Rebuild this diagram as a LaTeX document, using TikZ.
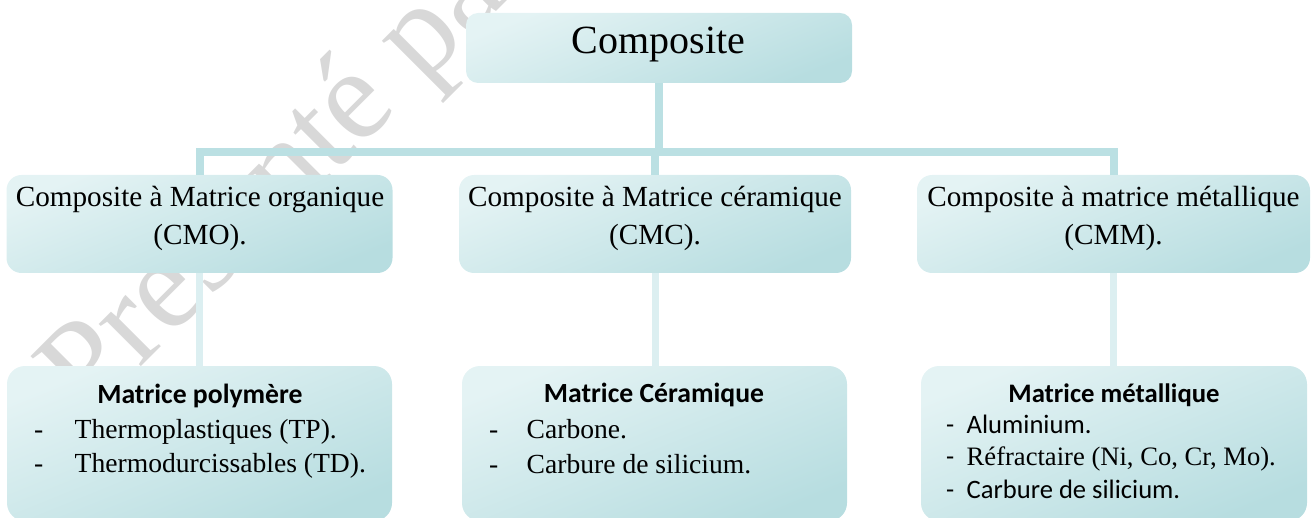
\documentclass[tikz,border=0pt]{standalone}
\usepackage{fontspec}
\setmainfont{Liberation Serif}
\newfontfamily\calibri{Carlito}
\definecolor{boxlight}{HTML}{E4F3F4}
\definecolor{boxmid}{HTML}{DAEEF0}
\definecolor{boxdark}{HTML}{B7DDE0}
\definecolor{linkdark}{HTML}{BBE0E3}
\definecolor{linklight}{HTML}{DCEFF1}
\definecolor{wmgray}{HTML}{D8D8D8}
\begin{document}
\begin{tikzpicture}[x=1pt,y=-1pt,
  card/.style={rectangle, rounded corners=#1, inner sep=0pt, draw=none,
    top color=boxlight, middle color=boxmid, bottom color=boxdark, shading angle=22},
  link/.style={draw=linkdark, line width=8pt},
  sublink/.style={draw=linklight, line width=7pt},
  ttl/.style={font=\fontsize{40}{48}\selectfont, inner sep=0pt, anchor=base},
  lvl/.style={font=\fontsize{29.2}{35}\selectfont, inner sep=0pt, anchor=base},
  head/.style={font=\calibri\bfseries\fontsize{27.7}{33}\selectfont, inner sep=0pt, anchor=base},
  itm/.style={font=\fontsize{27.6}{33}\selectfont, inner sep=0pt, anchor=base west},
  itmc/.style={font=\calibri\fontsize{26.6}{32}\selectfont, inner sep=0pt, anchor=base west},
  itmt/.style={font=\fontsize{26.6}{32}\selectfont, inner sep=0pt, anchor=base west},
  wm/.style={font=\fontsize{130}{150}\selectfont, text=wmgray, inner sep=0pt, anchor=base west, rotate=45}
]
\useasboundingbox (0,0) rectangle (1316,518);
\clip (0,0) rectangle (1316,518);

% background watermark
\node[wm] (wmark) at (88,420) {Présenté par};

% boxes
\node[card=12pt, minimum width=386pt, minimum height=70pt] (top) at (659,48) {};
\node[card=15pt, minimum width=386pt, minimum height=98pt] (c1) at (199.5,224) {};
\node[card=15pt, minimum width=392pt, minimum height=98pt] (c2) at (655,224) {};
\node[card=15pt, minimum width=393pt, minimum height=98pt] (c3) at (1113.5,224) {};
\node[card=18pt, minimum width=385pt, minimum height=155pt] (d1) at (199.5,443.5) {};
\node[card=18pt, minimum width=385pt, minimum height=155pt] (d2) at (654.5,443.5) {};
\node[card=18pt, minimum width=386pt, minimum height=155pt] (d3) at (1114,443.5) {};

% connectors
\coordinate (bar) at (0,152);
\draw[link] (top.south) -- (top.south |- bar);
\draw[link] (c1.north) -- (c1.north |- bar) -- (c3.north |- bar) -- (c3.north);
\draw[link] (c2.north) -- (c2.north |- bar);
\draw[sublink] (c1.south) -- (d1.north);
\draw[sublink] (c2.south) -- (c2.south |- d2.north);
\draw[sublink] (c3.south) -- (c3.south |- d3.north);

% titles
\node[ttl] (tTop) at (658.5,54) {Composite};
\node[lvl] (t1a) at (200,207) {Composite à Matrice organique};
\node[lvl] (t1b) at (200,245) {(CMO).};
\node[lvl] (t2a) at (655,207) {Composite à Matrice céramique};
\node[lvl] (t2b) at (655,245) {(CMC).};
\node[lvl] (t3a) at (1113.5,207) {Composite à matrice métallique};
\node[lvl] (t3b) at (1113.5,245) {(CMM).};

% polymer matrix
\node[head] (h1) at (200,403) {Matrice polymère};
\node[itm] (d1m1) at (34,438) {-};
\node[itm] (d1a) at (74.5,438) {Thermoplastiques (TP).};
\node[itm] (d1m2) at (34,472) {-};
\node[itm] (d1b) at (74.5,472) {Thermodurcissables (TD).};

% ceramic matrix
\node[head] (h2) at (654,402) {Matrice Céramique};
\node[itm] (d2m1) at (489,438) {-};
\node[itm] (d2a) at (526.5,438) {Carbone.};
\node[itm] (d2m2) at (489,473) {-};
\node[itm] (d2b) at (526.5,473) {Carbure de silicium.};

% metal matrix
\node[head, font=\calibri\bfseries\fontsize{26.7}{32}\selectfont] (h3) at (1114,402) {Matrice métallique};
\node[itmc] (d3m1) at (946,433) {-};
\node[itmc] (d3a) at (966.5,433) {Aluminium.};
\node[itmc] (d3m2) at (946,465) {-};
\node[itmt] (d3b) at (966.5,465) {Réfractaire (Ni, Co, Cr, Mo).};
\node[itmc] (d3m3) at (946,498) {-};
\node[itmc] (d3c) at (966.5,498) {Carbure de silicium.};
\end{tikzpicture}
\end{document}
